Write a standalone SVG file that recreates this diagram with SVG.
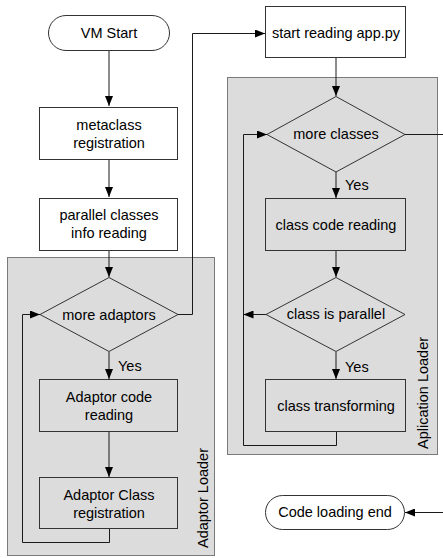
<svg xmlns="http://www.w3.org/2000/svg" width="443" height="558" viewBox="0 0 443 558">
<style>
.bg{fill:#ffffff}
.lane{fill:#dcdcdc;stroke:#7a7a7a;stroke-width:1}
.box{fill:#ffffff;stroke:#333333;stroke-width:1}
.gbox{fill:#dcdcdc;stroke:#333333;stroke-width:1}
.t{font-family:"Liberation Sans",Arial,sans-serif;font-size:14.5px;fill:#000000;text-anchor:middle}
.lbl{font-family:"Liberation Sans",Arial,sans-serif;font-size:14.5px;fill:#000000}
.c{fill:none;stroke:#1a1a1a;stroke-width:1}
</style>
<defs>
<marker id="ah" markerWidth="10" markerHeight="8" refX="10" refY="4" orient="auto" markerUnits="userSpaceOnUse">
<path d="M0,0 L10,4 L0,8 Z" fill="#000000"/>
</marker>
</defs>
<rect class="bg" x="0" y="0" width="443" height="558"/>

<g id="adaptor-loader">
<rect class="lane" x="7.5" y="257.5" width="207" height="298"/>
<text class="lbl" transform="translate(208,548) rotate(-90)" text-anchor="start">Adaptor Loader</text>
</g>
<g id="application-loader">
<rect class="lane" x="227.5" y="77.5" width="210" height="377"/>
<text class="lbl" transform="translate(428,449) rotate(-90)" text-anchor="start">Aplication Loader</text>
</g>

<g id="connectors">
<path class="c" d="M109,50 V106" marker-end="url(#ah)"/>
<path class="c" d="M109,159 V197" marker-end="url(#ah)"/>
<path class="c" d="M109,250 V277" marker-end="url(#ah)"/>
<path class="c" d="M109,352 V379" marker-end="url(#ah)"/>
<path class="c" d="M109,432 V477" marker-end="url(#ah)"/>
<path class="c" d="M109.5,529 V542.5 H22.5 V314.5 H40" marker-end="url(#ah)"/>
<path class="c" d="M178,314.5 H192.5 V33.5 H265" marker-end="url(#ah)"/>
<path class="c" d="M336,58 V96" marker-end="url(#ah)"/>
<path class="c" d="M405,134.5 H450 V512.5 H405" marker-end="url(#ah)"/>
<path class="c" d="M336,172 V198" marker-end="url(#ah)"/>
<path class="c" d="M336,251 V277" marker-end="url(#ah)"/>
<path class="c" d="M266,314.5 H243.5" marker-end="url(#ah)"/>
<path class="c" d="M336,352 V379" marker-end="url(#ah)"/>
<path class="c" d="M336.5,432 V445.5 H243.5 V134.5 H267" marker-end="url(#ah)"/>
<text class="lbl" x="118" y="371">Yes</text>
<text class="lbl" x="345" y="190">Yes</text>
<text class="lbl" x="345" y="372">Yes</text>
</g>

<g id="vm-start">
<rect class="box" x="48.5" y="15.5" width="121" height="35" rx="17.5"/>
<text class="t" x="109" y="38">VM Start</text>
</g>
<g id="metaclass-registration">
<rect class="box" x="39.5" y="107.5" width="138" height="52"/>
<text class="t" x="109" y="130">metaclass</text>
<text class="t" x="109" y="148">registration</text>
</g>
<g id="parallel-classes">
<rect class="box" x="39.5" y="198.5" width="138" height="52"/>
<text class="t" x="109" y="220">parallel classes</text>
<text class="t" x="109" y="238">info reading</text>
</g>
<g id="more-adaptors">
<polygon class="gbox" points="109,277.5 178,314.5 109,351.5 40,314.5"/>
<text class="t" x="109" y="320">more adaptors</text>
</g>
<g id="adaptor-code-reading">
<rect class="gbox" x="39.5" y="379.5" width="138" height="52"/>
<text class="t" x="109" y="402">Adaptor code</text>
<text class="t" x="109" y="420">reading</text>
</g>
<g id="adaptor-class-registration">
<rect class="gbox" x="39.5" y="477.5" width="138" height="51"/>
<text class="t" x="109" y="500">Adaptor Class</text>
<text class="t" x="109" y="518">registration</text>
</g>
<g id="start-reading">
<rect class="box" x="265.5" y="6.5" width="140" height="51"/>
<text class="t" x="336" y="38">start reading app.py</text>
</g>
<g id="more-classes">
<polygon class="gbox" points="336,96.5 405,134.5 336,172 267,134.5"/>
<text class="t" x="336" y="139">more classes</text>
</g>
<g id="class-code-reading">
<rect class="gbox" x="265.5" y="198.5" width="140" height="52"/>
<text class="t" x="336" y="230">class code reading</text>
</g>
<g id="class-is-parallel">
<polygon class="gbox" points="336,277.5 405,314.5 336,351.5 266,314.5"/>
<text class="t" x="336" y="319">class is parallel</text>
</g>
<g id="class-transforming">
<rect class="gbox" x="265.5" y="379.5" width="140" height="52"/>
<text class="t" x="336" y="411">class transforming</text>
</g>
<g id="code-loading-end">
<rect class="box" x="265.5" y="495.5" width="139" height="34" rx="17"/>
<text class="t" x="335" y="517">Code loading end</text>
</g>
</svg>
